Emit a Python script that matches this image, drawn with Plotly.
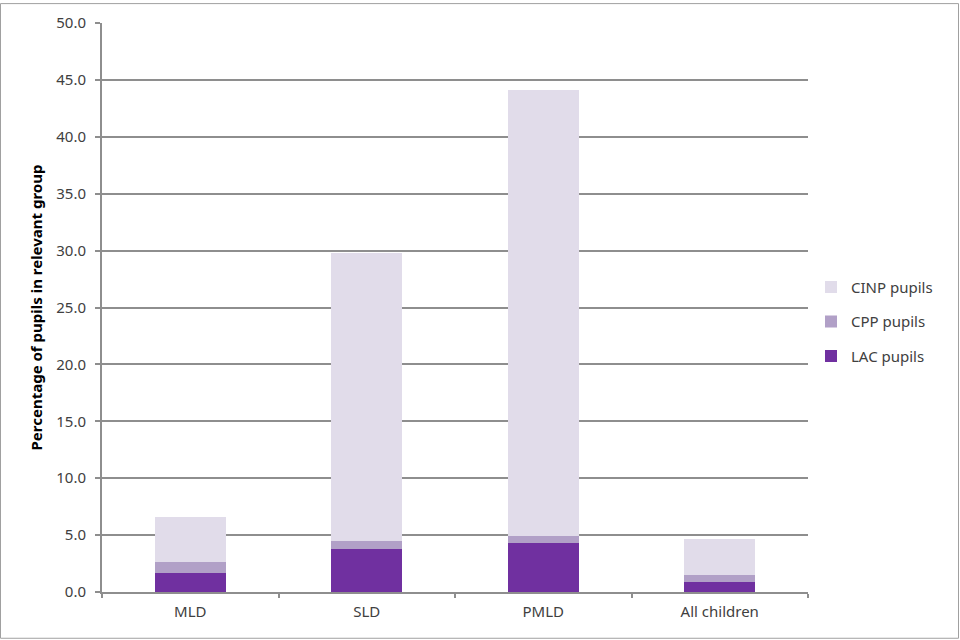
import plotly.graph_objects as go

categories = ["MLD", "SLD", "PMLD", "All children"]
lac = [1.7, 3.8, 4.3, 0.9]
cpp = [0.9, 0.7, 0.6, 0.6]
cinp = [4.0, 25.3, 39.2, 3.2]
y_ticks = [0, 5, 10, 15, 20, 25, 30, 35, 40, 45, 50]

FONT = "Noto Sans"
TXT = "#404040"
GRID = "#8e8e8e"

fig = go.Figure()
fig.add_trace(go.Bar(x=categories, y=lac, name="LAC pupils", marker_color="#7030a0",
                     marker_line_width=0, legendgroup="c", legendrank=3))
fig.add_trace(go.Bar(x=categories, y=cpp, name="CPP pupils", marker_color="#b1a0c7",
                     marker_line_width=0, legendgroup="b", legendrank=2))
fig.add_trace(go.Bar(x=categories, y=cinp, name="CINP pupils", marker_color="#e1dcea",
                     marker_line_width=0, legendgroup="a", legendrank=1))

L, R, T, B = 102, 152, 20, 48
W, H = 960, 640
pw, ph = W - L - R, H - T - B

fig.update_layout(
    width=W, height=H,
    barmode="stack", bargap=0.6,
    plot_bgcolor="white", paper_bgcolor="white",
    margin=dict(l=L, r=R, t=T, b=B),
    font=dict(family=FONT, size=15, color=TXT),
    legend=dict(x=1.0 + 3 / pw, xanchor="left", y=0.475, yanchor="middle",
                traceorder="grouped", tracegroupgap=12,
                font=dict(family=FONT, size=15, color=TXT),
                itemwidth=30, bgcolor="rgba(0,0,0,0)"),
    xaxis=dict(showline=True, linecolor=GRID, linewidth=2,
               ticks="outside", tickson="boundaries", ticklen=4,
               tickcolor=GRID, tickwidth=2, ticklabelstandoff=5,
               tickfont=dict(family=FONT, size=15, color=TXT)),
    yaxis=dict(range=[0, 50], tickvals=y_ticks, tickformat=".1f",
               showgrid=True, gridcolor=GRID, gridwidth=2,
               showline=True, linecolor=GRID, linewidth=2,
               ticks="outside", ticklen=5, tickcolor=GRID, tickwidth=2,
               ticklabelstandoff=6, zeroline=False,
               tickfont=dict(family=FONT, size=15, color=TXT),
               title=dict(text="<b>Percentage of pupils in relevant group</b>",
                          font=dict(family=FONT, size=15, color="#000000"),
                          standoff=10)),
    shapes=[dict(type="rect", xref="paper", yref="paper",
                 x0=-(L - 0.5) / pw, x1=1 + (R - 1.5) / pw,
                 y0=-(B - 1.5) / ph, y1=1 + (T - 0.5) / ph,
                 line=dict(color="#a0a0a0", width=1), layer="below")],
)

fig.write_html("out.html", config={"displayModeBar": False},
               post_script="document.body.style.margin='0';document.body.style.overflow='hidden';")
